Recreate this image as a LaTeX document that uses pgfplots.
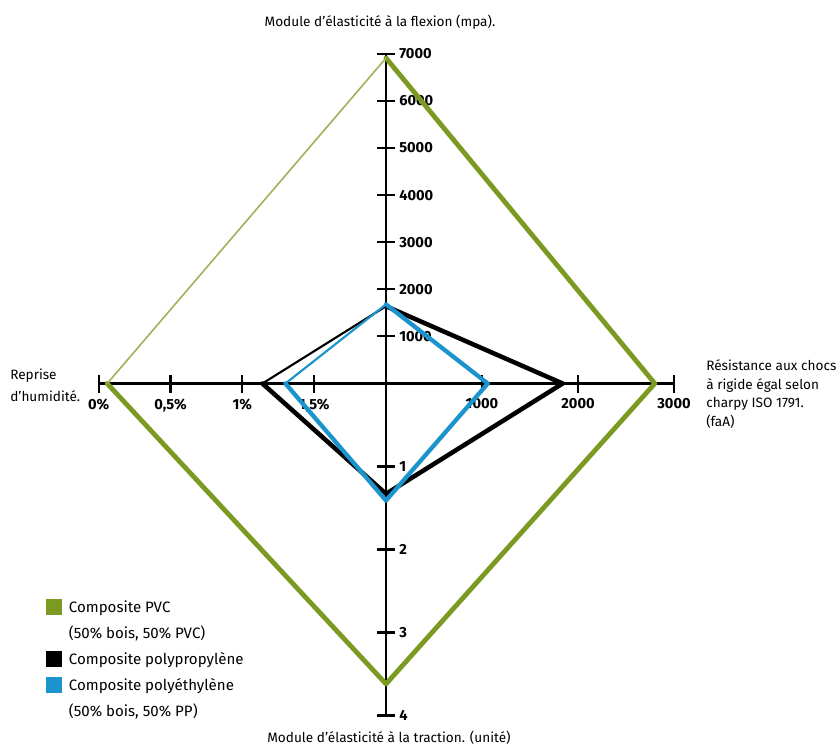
\documentclass[border=0pt]{standalone}
\usepackage{pgfplots}
\pgfplotsset{compat=1.18}
\usepackage{pgfplotstable}
\usepackage{fontspec}
\setmainfont{Fira Sans}
\definecolor{pvcgreen}{HTML}{7A9A22}
\definecolor{peblue}{HTML}{1B93CC}

% d: 0 = top (flexion, mpa), 1 = right (chocs), 2 = bottom (traction), 3 = left (humidite, %)
\pgfplotstableread{
d v
0 6910
1 2800
2 3.62
3 0.06
0 6910
}\pvc
\pgfplotstableread{
d v
0 1640
1 1840
2 1.33
3 1.14
0 1640
}\ppb
\pgfplotstableread{
d v
0 1680
1 1060
2 1.41
3 1.30
0 1680
}\peb

\pgfplotsset{
  radar/.style={
    table/x expr={(\thisrow{d}==1) ? (\thisrow{v}*0.096) : ((\thisrow{d}==3) ? (-(2-\thisrow{v})*143.7) : 0)},
    table/y expr={(\thisrow{d}==0) ? (\thisrow{v}*0.0471) : ((\thisrow{d}==2) ? (-\thisrow{v}*83) : 0)},
  },
}
\newcommand{\tickfont}{\bfseries\fontsize{11}{13}\selectfont}

\begin{document}
\begin{tikzpicture}
\useasboundingbox (0,0) rectangle (627.75pt,560.25pt);
\begin{axis}[
  at={(0,0)}, anchor=south west,
  x=0.75pt, y=0.75pt, scale only axis,
  xmin=-386, xmax=451, ymin=-363.5, ymax=383.5,
  hide axis, clip=false,
  legend style={at={(axis cs:-340,-214)}, anchor=north west, draw=none, fill=none,
    font=\fontsize{11.3}{13.5}\selectfont, row sep=4.8pt, inner sep=0pt,
    /tikz/every odd column/.append style={column sep=3pt}},
  legend cell align=left,
  legend image code/.code={\fill[#1, draw=none] (0pt,-6pt) rectangle (12pt,6pt);},
]
% axes
\draw[line width=1.6pt] (axis cs:0,-332) -- (axis cs:0,329.7);
\draw[line width=1.6pt] (axis cs:-287.4,0) -- (axis cs:288,0);
% top ticks
\pgfplotsinvokeforeach{1000,2000,3000,4000,5000,6000,7000}{
  \draw[line width=1.6pt] (axis cs:-9,#1*0.0471) -- (axis cs:9,#1*0.0471);
  \node[anchor=west, inner sep=0pt, font=\tickfont] at (axis cs:13,#1*0.0471) {#1};
}
% right ticks
\pgfplotsinvokeforeach{1000,2000,3000}{
  \draw[line width=1.6pt] (axis cs:#1*0.096,-9) -- (axis cs:#1*0.096,9);
  \node[anchor=north, inner sep=0pt, font=\tickfont] at (axis cs:#1*0.096,-15) {#1};
}
% bottom ticks
\pgfplotsinvokeforeach{1,2,3,4}{
  \draw[line width=1.6pt] (axis cs:-9,-#1*83) -- (axis cs:9,-#1*83);
  \node[anchor=west, inner sep=0pt, font=\tickfont] at (axis cs:13,-#1*83) {#1};
}
% left ticks
\draw[line width=1.6pt] (axis cs:-287.4,-9) -- (axis cs:-287.4,9);
\draw[line width=1.6pt] (axis cs:-215.5,-9) -- (axis cs:-215.5,9);
\draw[line width=1.6pt] (axis cs:-143.7,-9) -- (axis cs:-143.7,9);
\draw[line width=1.6pt] (axis cs:-71.8,-9) -- (axis cs:-71.8,9);
\node[anchor=north, inner sep=0pt, font=\tickfont] at (axis cs:-287.4,-15) {0\%};
\node[anchor=north, inner sep=0pt, font=\tickfont] at (axis cs:-215.5,-15) {0,5\%};
\node[anchor=north, inner sep=0pt, font=\tickfont] at (axis cs:-143.7,-15) {1\%};
\node[anchor=north, inner sep=0pt, font=\tickfont] at (axis cs:-71.8,-15) {1,5\%};

% series: thick edges (top-right-bottom-left) and thin edge (left-top)
\addplot[forget plot, radar, draw=pvcgreen, line width=3.6pt, line join=round, line cap=round, skip coords between index={4}{5}] table {\pvc};
\addplot[forget plot, radar, draw=pvcgreen!75, line width=1.2pt, line cap=round, skip coords between index={0}{3}] table {\pvc};
\addplot[forget plot, radar, draw=black, line width=3.4pt, line join=round, line cap=round, skip coords between index={4}{5}] table {\ppb};
\addplot[forget plot, radar, draw=black, line width=1.6pt, line cap=round, skip coords between index={0}{3}] table {\ppb};
\addplot[forget plot, radar, draw=peblue, line width=3.2pt, line join=round, line cap=round, skip coords between index={4}{5}] table {\peb};
\addplot[forget plot, radar, draw=peblue, line width=1.6pt, line cap=round, skip coords between index={0}{3}] table {\peb};

% legend
\addlegendimage{fill=pvcgreen}
\addlegendentry{Composite PVC}
\addlegendimage{empty legend}
\addlegendentry{(50\% bois, 50\% PVC)}
\addlegendimage{fill=black}
\addlegendentry{Composite polypropylène}
\addlegendimage{fill=peblue}
\addlegendentry{Composite polyéthylène}
\addlegendimage{empty legend}
\addlegendentry{(50\% bois, 50\% PP)}

% titles
\node[font=\fontsize{10.2}{12}\selectfont, inner sep=0pt] at (axis cs:-6,361.5) {Module d’élasticité à la flexion (mpa).};
\node[font=\fontsize{10.2}{12}\selectfont, inner sep=0pt, anchor=north] at (axis cs:3,-347) {Module d’élasticité à la traction. (unité)};
\node[font=\fontsize{10.2}{16.5}\selectfont, inner sep=0pt, anchor=west, align=left] at (axis cs:-376,-1.5) {Reprise\\d’humidité.};
\node[font=\fontsize{10.2}{14}\selectfont, inner sep=0pt, anchor=west, align=left] at (axis cs:320,-10.5) {Résistance aux chocs\\à rigide égal selon\\charpy ISO 1791.\\(faA)};
\end{axis}
\end{tikzpicture}
\end{document}
